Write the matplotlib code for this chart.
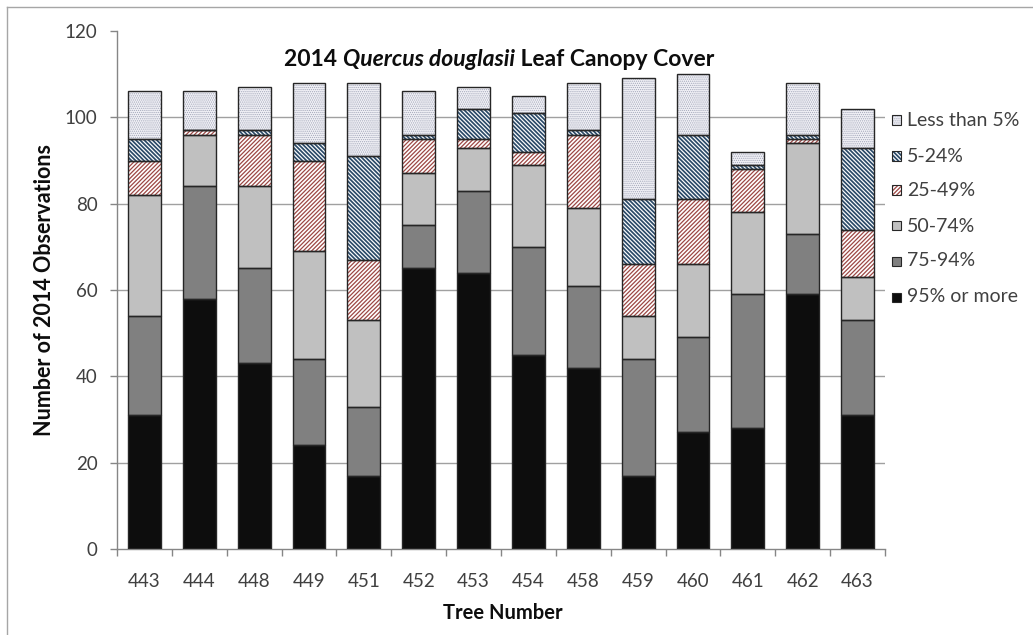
import matplotlib
matplotlib.use("Agg")
import matplotlib.pyplot as plt
from matplotlib.patches import Rectangle
from matplotlib.lines import Line2D
import numpy as np

# Tree identifiers along the x axis
trees = ['443', '444', '448', '449', '451', '452', '453',
         '454', '458', '459', '460', '461', '462', '463']

# Number of observations in each canopy-cover class (bottom to top of stack)
cover_95_plus = [31, 58, 43, 24, 17, 65, 64, 45, 42, 17, 27, 28, 59, 31]
cover_75_94 = [23, 26, 22, 20, 16, 10, 19, 25, 19, 27, 22, 31, 14, 22]
cover_50_74 = [28, 12, 19, 25, 20, 12, 10, 19, 18, 10, 17, 19, 21, 10]
cover_25_49 = [8, 1, 12, 21, 14, 8, 2, 3, 17, 12, 15, 10, 1, 11]
cover_5_24 = [5, 0, 1, 4, 24, 1, 7, 9, 1, 15, 15, 1, 1, 19]
cover_lt5 = [11, 9, 10, 14, 17, 10, 5, 4, 11, 28, 14, 3, 12, 9]

series_labels = ['95% or more', '75-94%', '50-74%', '25-49%', '5-24%', 'Less than 5%']

FONT = ['Lato', 'DejaVu Sans']
plt.rcParams['font.family'] = FONT

W, H = 1033, 635
fig = plt.figure(figsize=(W / 100, H / 100), dpi=100)
fig.patch.set_facecolor('white')

# outer chart frame
fig.add_artist(Line2D([7 / W, 7 / W], [0, 1 - 7 / H], color='#a6a6a6', lw=1.0,
                      transform=fig.transFigure))
fig.add_artist(Line2D([7 / W, 1], [1 - 7 / H, 1 - 7 / H], color='#a6a6a6', lw=1.0,
                      transform=fig.transFigure))

left, right, top, bottom = 117, 885, 31, 549
ax = fig.add_axes([left / W, (H - bottom) / H, (right - left) / W, (bottom - top) / H])

# style per series: fill, hatch, hatch colour, hatch line width
styles = [
    dict(fc='#0d0d0d', hatch=None, hc=None, hlw=1.0),
    dict(fc='#808080', hatch=None, hc=None, hlw=1.0),
    dict(fc='#c0c0c0', hatch=None, hc=None, hlw=1.0),
    dict(fc='white', hatch='/' * 8, hc='#9c4744', hlw=0.9),
    dict(fc='white', hatch='\\' * 8, hc='#2b4a68', hlw=1.25),
    dict(fc='#f1f1f6', hatch='.' * 8, hc='#a4a8ba', hlw=0.6),
]

series = [cover_95_plus, cover_75_94, cover_50_74, cover_25_49, cover_5_24, cover_lt5]
x = np.arange(len(trees))
bar_w = 0.6
bottoms = np.zeros(len(trees))
edge = '#262626'
for vals, st in zip(series, styles):
    vals = np.array(vals, dtype=float)
    with plt.rc_context({'hatch.linewidth': st['hlw']}):
        if st['hatch']:
            ax.bar(x, vals, bar_w, bottom=bottoms, color=st['fc'], edgecolor=st['hc'],
                   hatch=st['hatch'], linewidth=0, zorder=2)
        else:
            ax.bar(x, vals, bar_w, bottom=bottoms, color=st['fc'], linewidth=0, zorder=2)
    ax.bar(x, vals, bar_w, bottom=bottoms, fill=False, edgecolor=edge,
           linewidth=1.0, zorder=3)
    bottoms += vals

ax.set_xlim(-0.5, len(trees) - 0.5)
ax.set_ylim(0, 120)
ax.set_yticks(range(0, 121, 20))
for yv in range(20, 101, 20):
    ax.axhline(yv, color='#a0a0a0', lw=1.0, zorder=1)

ax.set_xticks(x)
ax.set_xticklabels(trees)
ax.set_xticks(np.arange(-0.5, len(trees), 1.0), minor=True)
ax.tick_params(axis='x', which='major', length=0, pad=17, labelsize=13.5, labelcolor='#404040')
ax.tick_params(axis='x', which='minor', length=5, width=1.0, color='#868686', direction='out')
ax.tick_params(axis='y', length=5, width=1.0, color='#868686', direction='out',
               pad=9, labelsize=13.5, labelcolor='#404040')

for s in ['top', 'right']:
    ax.spines[s].set_visible(False)
for s in ['left', 'bottom']:
    ax.spines[s].set_color('#868686')
    ax.spines[s].set_linewidth(1.0)

# title built from pieces so the species name can be bold italic
title_parts = [('2014 ', 'normal'), ('Quercus douglasii', 'italic'), (' Leaf Canopy Cover', 'normal')]
title_fs = 16.5
renderer = fig.canvas.get_renderer()
texts = []
for s, style in title_parts:
    t = fig.text(0, 1 - 60 / H, s, ha='left', va='center', fontsize=title_fs,
                 fontweight='bold', fontstyle=style, color='#0d0d0d')
    texts.append(t)
widths = [t.get_window_extent(renderer).width for t in texts]
total = sum(widths)
xstart = 499 - total / 2
for t, w in zip(texts, widths):
    t.set_x(xstart / W)
    xstart += w

fig.text(503 / W, 1 - 613 / H, 'Tree Number', ha='center', va='center',
         fontsize=14.5, fontweight='bold', color='#0d0d0d')
fig.text(45 / W, 1 - 290 / H, 'Number of 2014 Observations', ha='center', va='center',
         rotation=90, fontsize=15.5, fontweight='bold', color='#0d0d0d')

# legend, top entry first
legend_y = [120, 156, 190, 226, 261, 297]
for i, idx in enumerate(range(5, -1, -1)):
    st = styles[idx]
    yc = legend_y[i]
    sz = 9
    with plt.rc_context({'hatch.linewidth': st['hlw']}):
        r = Rectangle((892 / W, 1 - (yc + sz / 2) / H), sz / W, sz / H,
                      transform=fig.transFigure, facecolor=st['fc'],
                      edgecolor=st['hc'] if st['hc'] else st['fc'],
                      hatch=st['hatch'], linewidth=0)
    fig.add_artist(r)
    fig.add_artist(Rectangle((892 / W, 1 - (yc + sz / 2) / H), sz / W, sz / H,
                             transform=fig.transFigure, fill=False,
                             edgecolor=edge, linewidth=0.8))
    fig.text(907 / W, 1 - yc / H, series_labels[idx], ha='left', va='center',
             fontsize=14, color='#404040')

fig.savefig('out.png', dpi=100)
